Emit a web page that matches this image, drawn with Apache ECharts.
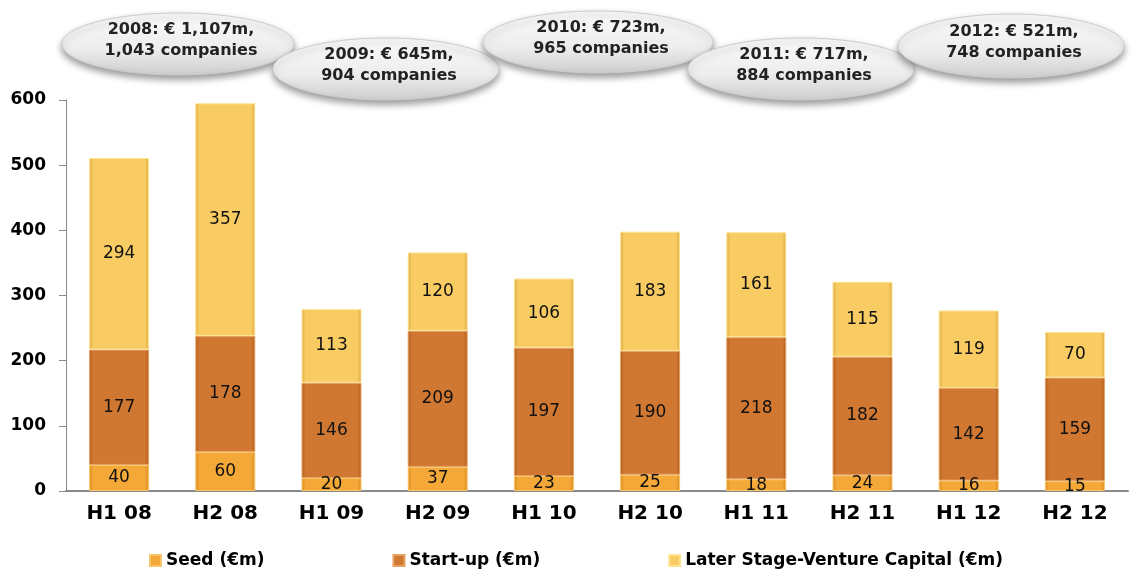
<!DOCTYPE html>
<html>
<head>
<meta charset="utf-8">
<script src="https://cdn.jsdelivr.net/npm/echarts@6/dist/echarts.min.js"></script>
<style>
html,body{margin:0;padding:0;background:#fff;}
#chart{width:1146px;height:584px;}
</style>
</head>
<body>
<div id="chart"></div>
<script>
const categories = ['H1 08','H2 08','H1 09','H2 09','H1 10','H2 10','H1 11','H2 11','H1 12','H2 12'];
const seed = [40, 60, 20, 37, 23, 25, 18, 24, 16, 15];
const startUp = [177, 178, 146, 209, 197, 190, 218, 182, 142, 159];
const laterStage = [294, 357, 113, 120, 106, 183, 161, 115, 119, 70];
const seriesNames = ['Seed (€m)', 'Start-up (€m)', 'Later Stage-Venture Capital (€m)'];
const yearNotes = [
  ['2008: € 1,107m,', '1,043 companies'],
  ['2009: € 645m,', '904 companies'],
  ['2010: € 723m,', '965 companies'],
  ['2011: € 717m,', '884 companies'],
  ['2012: € 521m,', '748 companies']
];

const font = 'DejaVu Sans, Verdana, sans-serif';

function hGrad(edge, base) {
  return {
    type: 'linear', x: 0, y: 0, x2: 1, y2: 0,
    colorStops: [
      {offset: 0, color: edge},
      {offset: 0.07, color: base},
      {offset: 0.93, color: base},
      {offset: 1, color: edge}
    ]
  };
}

const ellipsePos = [
  {cx: 178, cy: 44, rx: 116, ry: 31},
  {cx: 386, cy: 69, rx: 113, ry: 31},
  {cx: 598, cy: 42, rx: 115, ry: 31},
  {cx: 801, cy: 69, rx: 113, ry: 31},
  {cx: 1011, cy: 46, rx: 113, ry: 32}
];

const graphics = [];
yearNotes.forEach((lines, i) => {
  const p = ellipsePos[i];
  graphics.push({
    type: 'ellipse',
    shape: {cx: p.cx, cy: p.cy, rx: p.rx, ry: p.ry},
    z: 10 + i,
    style: {
      fill: {
        type: 'linear', x: 0, y: 0, x2: 0, y2: 1,
        colorStops: [
          {offset: 0, color: '#fbfbfb'},
          {offset: 0.6, color: '#ececec'},
          {offset: 1, color: '#cdcdcd'}
        ]
      },
      stroke: '#cccccc',
      lineWidth: 1,
      shadowBlur: 7,
      shadowOffsetY: 4,
      shadowColor: 'rgba(0,0,0,0.4)'
    }
  });
  graphics.push({
    type: 'text',
    x: p.cx + 3,
    y: p.cy - 4,
    z: 20 + i,
    style: {
      text: lines.join('\n'),
      font: 'bold 16px ' + font,
      fill: '#222',
      align: 'center',
      verticalAlign: 'middle',
      lineHeight: 21
    }
  });
});

const labelStyle = {
  show: true,
  position: 'inside',
  color: '#111',
  fontSize: 17,
  fontFamily: font
};

const chart = echarts.init(document.getElementById('chart'));
chart.setOption({
  animation: false,
  backgroundColor: '#fff',
  grid: {left: 66, right: 18, top: 100, bottom: 93},
  legend: {
    data: seriesNames,
    left: 144,
    top: 547,
    itemGap: 128,
    itemWidth: 11,
    itemHeight: 11,
    icon: 'rect',
    textStyle: {fontFamily: font, fontSize: 17, fontWeight: 'bold', color: '#000'}
  },
  xAxis: {
    type: 'category',
    data: categories,
    axisLine: {lineStyle: {color: '#8a8a8a', width: 2}},
    axisTick: {show: false},
    axisLabel: {fontFamily: font, fontSize: 20, fontWeight: 'bold', color: '#000', margin: 13}
  },
  yAxis: {
    type: 'value',
    min: 0,
    max: 600,
    interval: 100,
    axisLine: {show: true, lineStyle: {color: '#8a8a8a', width: 1}},
    axisTick: {show: true, length: 7, lineStyle: {color: '#8a8a8a'}},
    splitLine: {show: false},
    axisLabel: {fontFamily: font, fontSize: 17, fontWeight: 'bold', color: '#000', margin: 20}
  },
  series: [
    {
      name: seriesNames[0], type: 'bar', stack: 'total', data: seed, barWidth: 60,
      itemStyle: {color: hGrad('#d98a22', '#f4a838'), borderColor: '#f8c668', borderWidth: 1},
      label: labelStyle
    },
    {
      name: seriesNames[1], type: 'bar', stack: 'total', data: startUp, barWidth: 60,
      itemStyle: {color: hGrad('#b05e1c', '#d07832'), borderColor: '#e6a060', borderWidth: 1},
      label: labelStyle
    },
    {
      name: seriesNames[2], type: 'bar', stack: 'total', data: laterStage, barWidth: 60,
      itemStyle: {color: hGrad('#dcaa45', '#f8cc62'), borderColor: '#fde394', borderWidth: 1},
      label: labelStyle
    }
  ],
  graphic: graphics
});
</script>
</body>
</html>
